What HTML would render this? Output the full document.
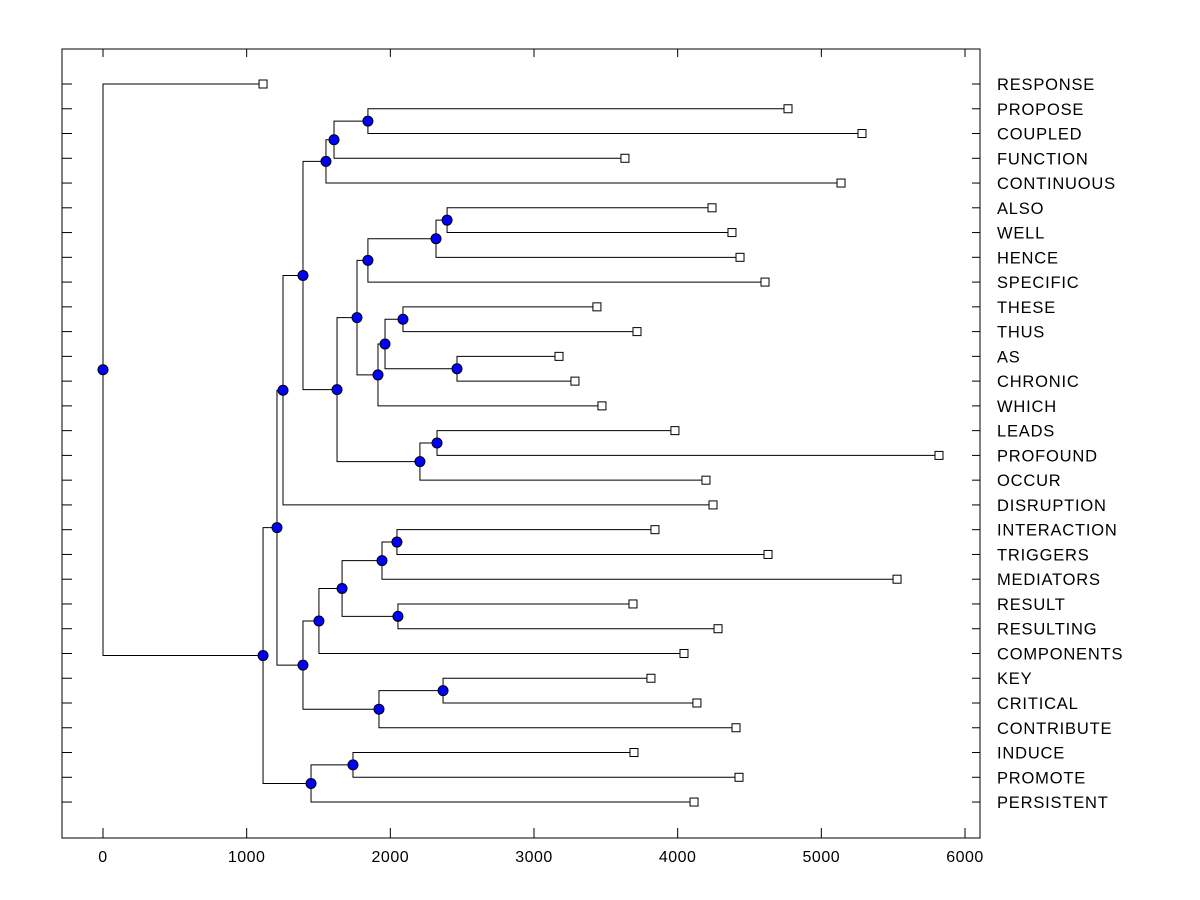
<!DOCTYPE html>
<html><head><meta charset="utf-8"><style>body{margin:0;background:#fff}svg{display:block}</style></head>
<body>
<svg id="c" width="1200" height="900" font-family="Liberation Sans, Arial, sans-serif"></svg>
<script>
const labels=["RESPONSE","PROPOSE","COUPLED","FUNCTION","CONTINUOUS","ALSO","WELL","HENCE","SPECIFIC","THESE","THUS","AS","CHRONIC","WHICH","LEADS","PROFOUND","OCCUR","DISRUPTION","INTERACTION","TRIGGERS","MEDIATORS","RESULT","RESULTING","COMPONENTS","KEY","CRITICAL","CONTRIBUTE","INDUCE","PROMOTE","PERSISTENT"];
const leafValues=[1114,4768,5283,3633,5137,4239,4378,4434,4608,3438,3717,3174,3285,3473,3981,5819,4197,4246,3842,4629,5527,3689,4281,4044,3814,4134,4406,3696,4427,4114];
// merges: [childA, childB, height]; leaves are "L<index>", nodes "N<index>"
const merges=[
["L1","L2",1844],["N0","L3",1608],["N1","L4",1552],
["L5","L6",2395],["N3","L7",2318],["N4","L8",1844],
["L9","L10",2088],["L11","L12",2464],["N6","N7",1963],["N8","L13",1914],
["N5","N9",1768],["L14","L15",2325],["N11","L16",2206],["N10","N12",1629],
["N2","N13",1392],["N14","L17",1253],
["L18","L19",2046],["N16","L20",1942],["L21","L22",2053],["N17","N18",1664],["N19","L23",1503],
["L24","L25",2367],["N21","L26",1921],["N20","N22",1392],["N15","N23",1211],
["L27","L28",1740],["N25","L29",1448],["N24","N26",1114],["L0","N27",0]];
const xTicks=[0,1000,2000,3000,4000,5000,6000];
const NS="http://www.w3.org/2000/svg",svg=document.getElementById('c');
const L=62,R=980,T=49,B=838;
const X=v=>103+v*(965-103)/6000;
const Y=i=>84+i*24.76;
function mk(t,a,p){const e=document.createElementNS(NS,t);for(const k in a)e.setAttribute(k,a[k]);(p||svg).appendChild(e);return e;}
const frame=mk('rect',{x:L,y:T,width:R-L,height:B-T,fill:'none',stroke:'#000','stroke-width':1});


xTicks.forEach(v=>{
 const g=mk('g',{});
 
 
 mk('line',{x1:X(v),x2:X(v),y1:B,y2:B-10,stroke:'#000'},g);
 mk('line',{x1:X(v),x2:X(v),y1:T,y2:T+8,stroke:'#000'},g);
 const t=mk('text',{x:X(v),y:862,'text-anchor':'middle','font-size':16,'letter-spacing':0.5},g);t.textContent=v;
});
labels.forEach((s,i)=>{
 const g=mk('g',{});
 
 
 mk('line',{x1:L,x2:L+10,y1:Y(i),y2:Y(i),stroke:'#000'},g);
 mk('line',{x1:R-8,x2:R,y1:Y(i),y2:Y(i),stroke:'#000'},g);
 const t=mk('text',{x:997,y:Y(i)+6,'font-size':16.5,'letter-spacing':0.8},g);t.textContent=s;
});
const pos={};
labels.forEach((s,i)=>pos['L'+i]={x:X(leafValues[i]),y:Y(i)});
const lines=mk('g',{});


merges.forEach((m,k)=>{
 const a=pos[m[0]],b=pos[m[1]],x=X(m[2]),y=(a.y+b.y)/2;
 pos['N'+k]={x,y};
 mk('path',{d:`M${a.x},${a.y}H${x}V${b.y}H${b.x}`,fill:'none',stroke:'#000','stroke-width':1},lines);
});
labels.forEach((s,i)=>{
 const p=pos['L'+i];
 const r=mk('rect',{x:p.x-4,y:p.y-4,width:8,height:8,fill:'#fff',stroke:'#000'});
 
 
});
merges.forEach((m,k)=>{
 const p=pos['N'+k];
 const c=mk('circle',{cx:p.x,cy:p.y,r:5,fill:'#0000ff',stroke:'#000','stroke-width':1});
 
 
});
</script>
</body></html>
